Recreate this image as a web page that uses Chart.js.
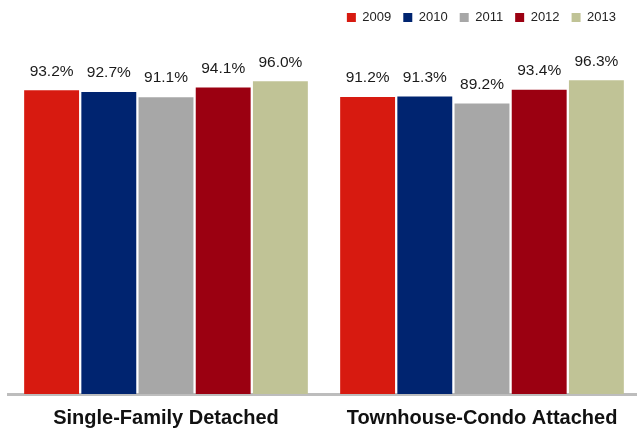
<!DOCTYPE html>
<html>
<head>
<meta charset="utf-8">
<script src="https://cdn.jsdelivr.net/npm/chart.js@4/dist/chart.umd.min.js"></script>
<style>
  html, body { margin: 0; padding: 0; background: #fff; overflow: hidden; width: 637px; height: 429px; }
  #wrap { width: 640px; height: 443px; position: relative; top: -1px; }
</style>
</head>
<body>
<div id="wrap"><canvas id="c"></canvas></div>
<script>
const categories = ["Single-Family Detached", "Townhouse-Condo Attached"];
const years = ["2009", "2010", "2011", "2012", "2013"];
const values2009 = [93.2, 91.2];
const values2010 = [92.7, 91.3];
const values2011 = [91.1, 89.2];
const values2012 = [94.1, 93.4];
const values2013 = [96.0, 96.3];
const seriesValues = [values2009, values2010, values2011, values2012, values2013];
const colors = ["#D71A10", "#002470", "#A7A7A7", "#9B0011", "#C0C396"];

const FONT = "'Liberation Sans', Arial, Helvetica, sans-serif";

const labelPlugin = {
  id: 'barLabels',
  afterDatasetsDraw(chart) {
    const ctx = chart.ctx;
    ctx.save();
    ctx.font = "15.5px " + FONT;
    ctx.fillStyle = "#1a1a1a";
    ctx.textAlign = "center";
    ctx.textBaseline = "middle";
    chart.data.datasets.forEach((ds, i) => {
      const meta = chart.getDatasetMeta(i);
      meta.data.forEach((bar, j) => {
        ctx.fillText(ds.data[j].toFixed(1) + "%", bar.x, bar.y - 19);
      });
    });
    ctx.restore();
  }
};

const legendShift = {
  id: 'legendShift',
  afterLayout(chart) {
    const lg = chart.legend;
    if (lg) { lg.left -= 12; lg.right -= 12; }
  }
};

new Chart(document.getElementById('c'), {
  type: 'bar',
  data: {
    labels: categories,
    datasets: years.map((y, i) => ({
      label: y,
      data: seriesValues[i],
      backgroundColor: colors[i],
      borderWidth: 0,
      barPercentage: 0.96,
      categoryPercentage: 0.905
    }))
  },
  options: {
    responsive: true,
    maintainAspectRatio: false,
    animation: false,
    events: [],
    layout: { padding: { left: 8, right: 0, top: 0, bottom: 0 } },
    plugins: {
      legend: {
        position: 'top',
        align: 'end',
        labels: {
          boxWidth: 9,
          boxHeight: 9,
          padding: 12,
          color: '#222',
          font: { family: FONT, size: 13 }
        }
      },
      tooltip: { enabled: false }
    },
    scales: {
      x: {
        z: 1,
        grid: { display: false, drawTicks: false },
        border: { display: true, color: '#BDBDBD', width: 3 },
        ticks: {
          color: '#111',
          padding: 12,
          font: { family: FONT, size: 20, weight: 'bold' }
        }
      },
      y: {
        display: false,
        min: 0,
        max: 110.5
      }
    }
  },
  plugins: [labelPlugin, legendShift]
});
</script>
</body>
</html>
